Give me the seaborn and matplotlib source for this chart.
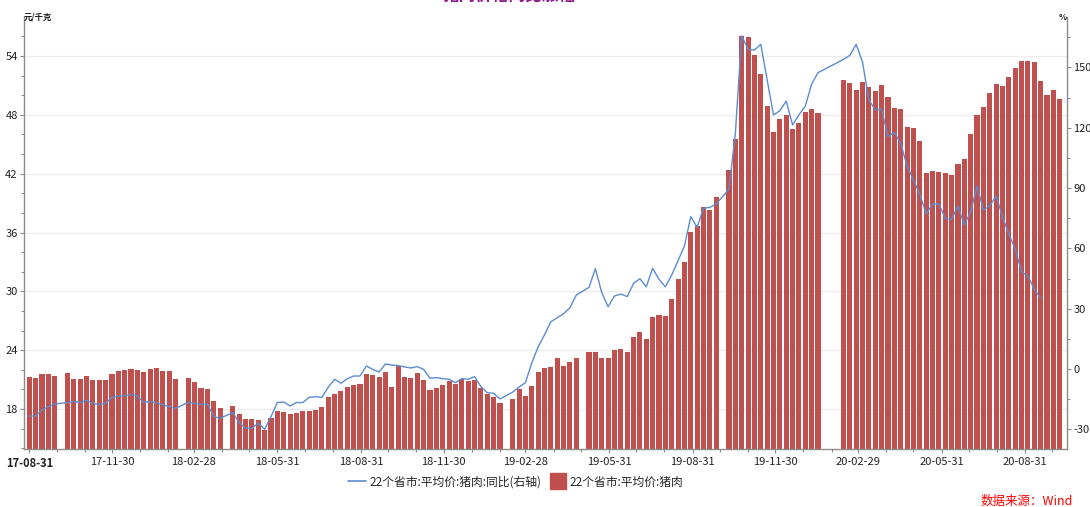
import numpy as np
import pandas as pd
import seaborn as sns
import matplotlib.pyplot as plt
import matplotlib.dates as mdates
from matplotlib.lines import Line2D
from matplotlib.ticker import FixedLocator, MultipleLocator

nan = np.nan

# 周度数据: 2017-08-31 起, 每 7 天一期 (缺失周为 nan)
start_date = "2017-08-31"
n_weeks = 163

# 22个省市:平均价:猪肉 (元/千克)
price = [
    21.3, 21.16, 21.6, 21.6, 21.4, nan, 21.7, 21.06, 21.06, 21.4,
    21.0, 21.0, 21.0, 21.6, 21.88, 21.98, 22.08, 21.98, 21.8, 22.08,
    22.18, 21.88, 21.88, 21.06, nan, 21.16, 20.75, 20.14, 20.04, 18.8,
    18.1, nan, 18.3, 17.5, 17.0, 17.0, 16.9, 15.86, 17.1, 17.8,
    17.7, 17.5, 17.6, 17.8, 17.8, 17.9, 18.2, 19.2, 19.5, 19.8,
    20.2, 20.4, 20.5, 21.57, 21.47, 21.26, 21.77, 20.24, 22.4, 21.3,
    21.16, 21.7, 21.0, 19.97, 20.18, 20.48, 20.9, 20.58, 21.09, 20.9,
    21.0, 20.18, 19.56, 19.26, 18.64, nan, 19.05, 20.07, 19.36, 20.38,
    21.77, 22.18, 22.28, 23.2, 22.4, 22.8, 23.2, nan, 23.8, 23.8,
    23.2, 23.2, 24.0, 24.1, 23.85, 25.34, 25.85, 25.14, 27.38, 27.6,
    27.5, 29.2, 31.26, 33.0, 36.05, 36.66, 38.6, 38.3, 39.6, nan,
    42.37, 45.5, 56.04, 55.97, 54.13, 52.16, 48.9, 46.25, 47.54, 47.98,
    46.58, 47.17, 48.29, 48.6, 48.2, nan, nan, nan, 51.55, 51.28,
    50.57, 51.4, 50.87, 50.46, 51.04, 49.85, 48.7, 48.6, 46.8, 46.66,
    45.36, 42.1, 42.27, 42.2, 42.1, 41.9, 43.0, 43.5, 46.07, 48.0,
    48.8, 50.2, 51.17, 50.94, 51.9, 52.8, 53.5, 53.46, 53.4, 51.45,
    50.0, 50.56, 49.6,
]

# 22个省市:平均价:猪肉:同比 (%, 右轴)
yoy = [
    -23.4, -23.4, -20.4, -18.7, -17.4, nan, -16.7, -16.1, -16.7, -15.6,
    -17.1, -17.7, -17.1, -14.1, -13.4, -13.4, -12.6, -13.4, -16.7, -16.3,
    -16.7, -17.9, -18.7, -19.6, nan, -16.6, -17.1, -17.6, -17.4, -23.7,
    -24.5, nan, -21.7, -26.7, -29.5, -29.5, -27.0, -30.0, -23.7, -16.7,
    -16.4, -18.4, -16.7, -16.7, -14.1, -13.8, -14.1, -9.1, -5.1, -7.1,
    -4.8, -3.5, -3.5, 1.5, -0.2, -1.5, 2.5, 2.0, 1.7, 1.0,
    0.5, 1.2, -0.2, -4.6, -4.3, -4.8, -5.1, -6.8, -4.8, -5.1,
    -3.8, -8.8, -11.8, -12.1, -14.9, nan, -11.5, -9.0, -6.8, 3.0,
    11.0, 17.0, 23.5, 25.5, 27.5, 30.5, 36.8, nan, 40.6, 49.9,
    38.0, 31.0, 36.3, 37.3, 36.0, 42.6, 44.9, 40.9, 50.1, 44.6,
    40.9, 46.8, 53.9, 61.2, 75.8, 70.5, 80.0, 80.4, 82.1, nan,
    89.4, 117.0, 165.7, 159.0, 158.7, 161.5, 143.8, 126.4, 128.5, 133.3,
    121.4, 126.4, 130.8, 141.8, 147.4, nan, nan, nan, 154.0, 156.0,
    161.5, 152.6, 133.8, 128.9, 129.2, 115.6, 117.6, 112.3, 101.0, 94.0,
    87.0, 77.1, 82.1, 82.1, 75.0, 74.5, 81.1, 71.6, 78.3, 91.0,
    79.1, 81.1, 86.1, 75.8, 67.2, 59.6, 48.4, 46.3, 39.7, 35.2,
    nan, nan, nan,
]

# x 轴刻度
tick_dates = [
    "2017-08-31", "2017-11-30", "2018-02-28", "2018-05-31", "2018-08-31",
    "2018-11-30", "2019-02-28", "2019-05-31", "2019-08-31", "2019-11-30",
    "2020-02-29", "2020-05-31", "2020-08-31",
]
tick_labels = [
    "17-08-31", "17-11-30", "18-02-28", "18-05-31", "18-08-31",
    "18-11-30", "19-02-28", "19-05-31", "19-08-31", "19-11-30",
    "20-02-29", "20-05-31", "20-08-31",
]

bar_label = "22个省市:平均价:猪肉"
line_label = "22个省市:平均价:猪肉:同比(右轴)"

BAR_COLOR = "#C0504D"
LINE_COLOR = "#5B8CD2"
SPINE_COLOR = "#8C8C8C"


def main():
    sns.set_theme(style="white")
    plt.rcParams["font.family"] = ["Noto Sans CJK SC", "DejaVu Sans"]
    plt.rcParams["axes.unicode_minus"] = False

    dates = pd.date_range(start_date, periods=n_weeks, freq="7D")
    df = pd.DataFrame({"date": dates, "price": price, "yoy": yoy})
    df["num"] = mdates.date2num(df["date"])

    fig = plt.figure(figsize=(10.9, 5.07), dpi=100)
    ax = fig.add_axes([24 / 1090, 1 - 449 / 507, (1067 - 24) / 1090, (449 - 17) / 507])

    # 柱状图: 价格
    bars = df.dropna(subset=["price"])
    sns.barplot(data=bars, x="num", y="price", native_scale=True, color=BAR_COLOR,
                saturation=1, width=0.8, errorbar=None, linewidth=0, ax=ax)

    # 折线: 同比 (右轴)
    ax2 = ax.twinx()
    line = df.dropna(subset=["yoy"])
    sns.lineplot(data=line, x="num", y="yoy", color=LINE_COLOR, lw=1.0, ax=ax2)

    x0 = mdates.date2num(pd.Timestamp("2017-08-31")) - 5.8
    x1 = mdates.date2num(pd.Timestamp("2020-08-31")) + 46
    ax.set_xlim(x0, x1)
    ax.set_ylim(13.92, 57.98)
    ax2.set_ylim(-39.8, 175.1)

    ax.set_xlabel("")
    ax.set_ylabel("")
    ax2.set_xlabel("")
    ax2.set_ylabel("")

    # x 轴刻度
    ax.xaxis.set_major_locator(FixedLocator(mdates.date2num(pd.to_datetime(tick_dates))))
    ax.set_xticklabels(tick_labels)
    month_ends = pd.date_range("2017-09-01", "2020-10-01", freq=pd.offsets.MonthEnd())
    ax.xaxis.set_minor_locator(FixedLocator(mdates.date2num(month_ends)))
    ax.get_xticklabels()[0].set_fontweight("bold")

    # y 轴刻度
    ax.set_yticks(np.arange(18, 55, 6))
    ax.yaxis.set_minor_locator(MultipleLocator(2))
    ax2.set_yticks(np.arange(-30, 151, 30))
    ax2.yaxis.set_minor_locator(MultipleLocator(15))

    for a in (ax, ax2):
        a.tick_params(which="both", direction="out", color=SPINE_COLOR, labelsize=8,
                      labelcolor="#222222", pad=1.5)
        a.tick_params(which="major", length=3, width=0.8)
        a.tick_params(which="minor", length=2, width=0.8)
    ax.tick_params(axis="x", which="both", bottom=True, pad=3)
    ax.tick_params(axis="y", which="both", left=True)
    ax2.tick_params(axis="y", which="both", right=True)

    # 网格线
    ax.set_axisbelow(True)
    ax.yaxis.grid(True, color="#EDEDED", lw=1)
    ax.xaxis.grid(False)
    ax2.grid(False)

    for s in ["top", "right"]:
        ax.spines[s].set_visible(False)
    for s in ["top", "left", "bottom"]:
        ax2.spines[s].set_visible(False)
    for s in ["left", "bottom"]:
        ax.spines[s].set_color(SPINE_COLOR)
        ax.spines[s].set_linewidth(1)
    ax2.spines["right"].set_color(SPINE_COLOR)
    ax2.spines["right"].set_linewidth(1)

    # 单位
    fig.text(24 / 1090, 1 - 17 / 507, "元/千克", ha="left", va="center",
             fontsize=6, fontweight="bold", color="#222222")
    fig.text(1063 / 1090, 1 - 17 / 507, "%", ha="center", va="center",
             fontsize=6, fontweight="bold", color="#222222")

    # 标题 (原图顶部被裁切, 只露出下沿)
    fig.text(509 / 1090, 1 + 3 / 507, "猪肉价格同比涨幅", ha="center", va="center",
             fontsize=12, fontweight="bold", color="#8B1C8B")

    # 图例
    handles = [
        Line2D([], [], color=LINE_COLOR, lw=1.2),
        Line2D([], [], color=BAR_COLOR, marker="s", markersize=11, ls="none"),
    ]
    fig.legend(handles, [line_label, bar_label], loc="center", ncol=2,
               bbox_to_anchor=(516 / 1090, 1 - 482 / 507), frameon=False,
               fontsize=8.5, handlelength=1.5, handletextpad=0.3, columnspacing=0.6)

    # 数据来源
    fig.text(1073 / 1090, 1 - 501 / 507, "数据来源：Wind", ha="right", va="center",
             fontsize=9, color="#FF0000", style="italic")

    fig.savefig("out.png", dpi=100)


if __name__ == "__main__":
    main()
